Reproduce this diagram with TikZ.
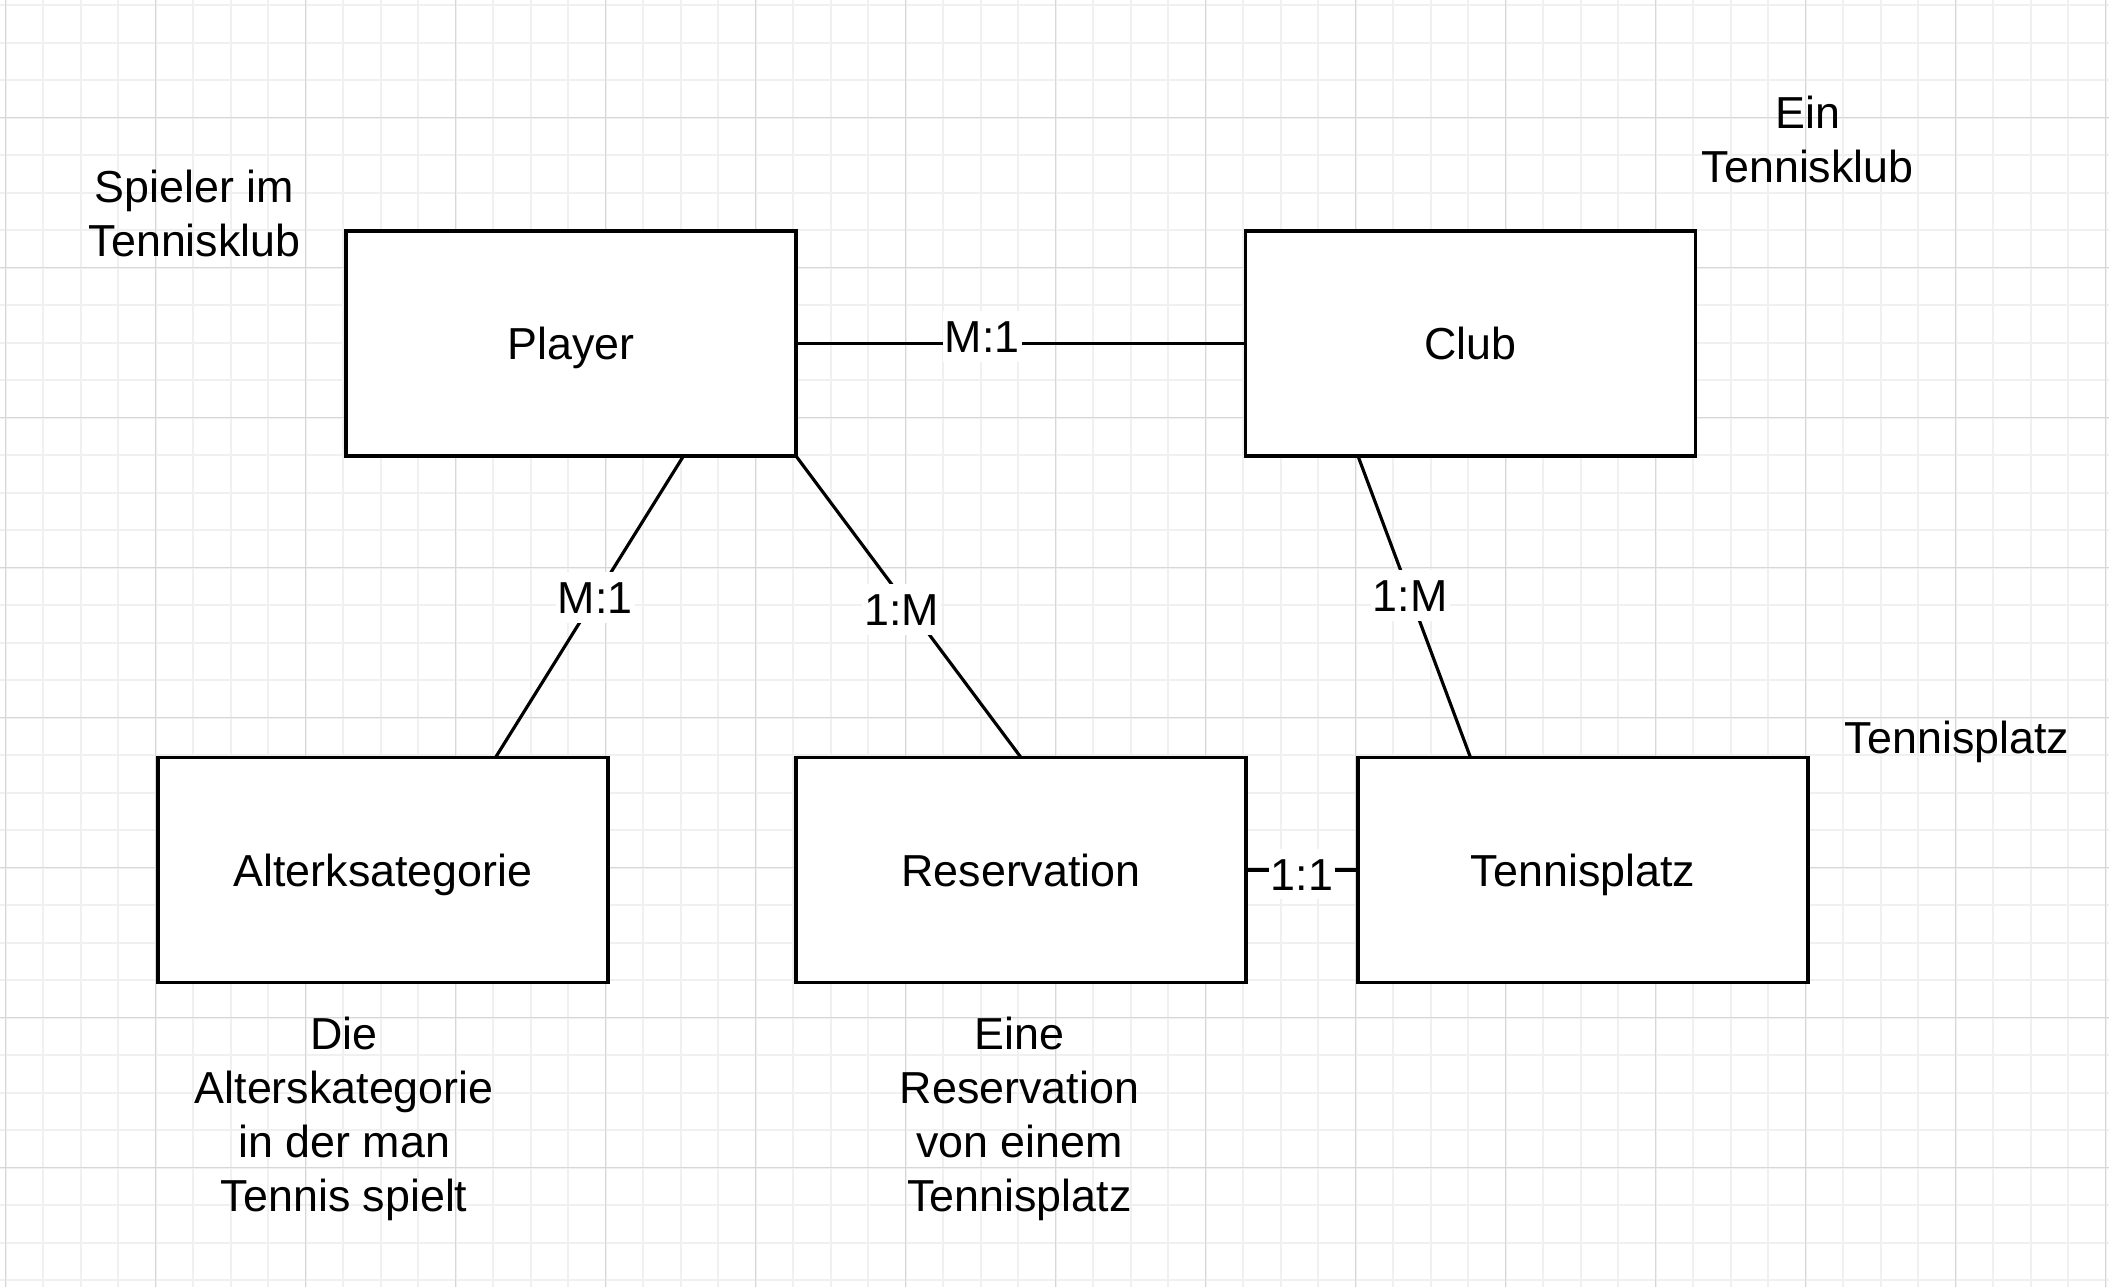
\documentclass[tikz,border=0pt]{standalone}
\usepackage{fontspec}
\setmainfont{Liberation Sans}
\definecolor{gridmajor}{RGB}{215,215,215}
\definecolor{gridminor}{RGB}{240,240,240}

\begin{document}
\begin{tikzpicture}[
					every node/.style={font=\fontsize{12.75}{15.4}\selectfont},
					entity/.style={draw, fill=white, line width=0.95pt, minimum width=4.5cm, minimum height=2.25cm, inner sep=0pt, outer sep=0pt, text height=9.1pt, text depth=0pt},
					card/.style={fill=white, inner xsep=0.6pt, inner ysep=2.7pt, text height=9.1pt, text depth=0pt},
					note/.style={align=center, inner sep=0pt, anchor=north},
					link/.style={line width=0.9pt}]
					\useasboundingbox (0,0) rectangle (21.09,-12.87);
					\fill[white] (0,0) rectangle (21.09,-12.87);
					% grid
					\foreach \i in {0,...,56}
						\draw[gridminor, line width=0.6pt] ({0.057+0.375*\i},0) -- ++(0,-12.87);
					\foreach \j in {0,...,34}
						\draw[gridminor, line width=0.6pt] (0,{-0.052-0.375*\j}) -- ++(21.09,0);
					\foreach \k in {0,...,14}
						\draw[gridmajor, line width=0.4pt] ({0.057+1.5*\k},0) -- ++(0,-12.87);
					\foreach \k in {0,...,7}
						\draw[gridmajor, line width=0.4pt] (0,{-1.177-1.5*\k}) -- ++(21.09,0);

					\node[entity] (player) at (5.71,-3.435) {Player};
					\node[entity] (club) at (14.705,-3.435) {Club};
					\node[entity] (alter) at (3.83,-8.70) {Alterksategorie};
					\node[entity] (reservation) at (10.21,-8.70) {Reservation};
					\node[entity] (platz) at (15.83,-8.70) {Tennisplatz};

					\draw[link] (player) -- node[card, pos=0.414, yshift=0.07cm] {M:1} (club);
					\draw[link] ([xshift=1.125cm]player.south) -- node[card, pos=0.47] {M:1} ([xshift=1.125cm]alter.north);
					\draw[link] (player.south east) -- node[card, pos=0.51, xshift=-0.09cm] {1:M} (reservation.north);
					\draw[link] ([xshift=-1.125cm]club.south) -- node[card, pos=0.463] {1:M} ([xshift=-1.125cm]platz.north);
					\draw[link] (reservation) -- node[card, yshift=-0.04cm] {1:1} (platz);

					\node[note] (spieler) at (1.946,-1.695) {Spieler im\\Tennisklub};
					\node[note] (ein) at (18.077,-0.953) {Ein\\Tennisklub};
					\node[anchor=base, inner sep=0pt] (platzinfo) at (19.57,-7.533) {Tennisplatz};
					\node[note] (die) at (3.442,-10.161) {Die\\Alterskategorie\\in der man\\Tennis spielt};
					\node[note] (eine) at (10.195,-10.161) {Eine\\Reservation\\von einem\\Tennisplatz};
				\end{tikzpicture}
\end{document}
